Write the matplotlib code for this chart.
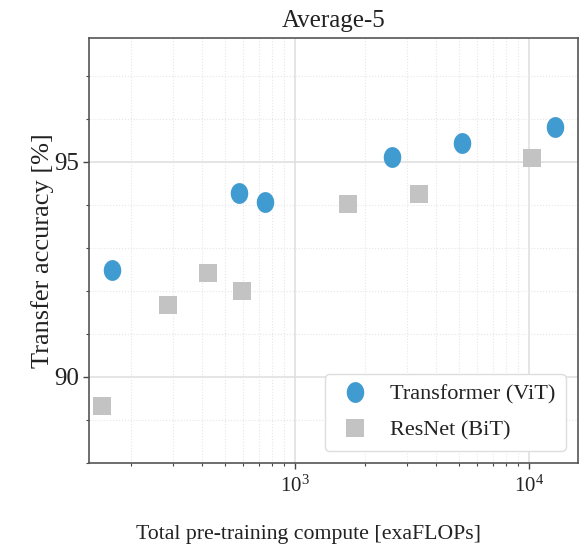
import numpy as np
import matplotlib
matplotlib.use("Agg")
import matplotlib.pyplot as plt
from matplotlib.path import Path
from matplotlib.ticker import LogLocator, MultipleLocator, NullFormatter

plt.rcParams['font.family'] = ['Liberation Serif', 'DejaVu Serif']
plt.rcParams['mathtext.fontset'] = 'custom'
plt.rcParams['mathtext.rm'] = 'Liberation Serif'

title = "Average-5"
xlabel = "Total pre-training compute [exaFLOPs]"
ylabel = "Transfer accuracy [%]"

vit_label = "Transformer (ViT)"
vit_compute = [165, 577, 745, 2600, 5170, 12900]
vit_acc = [92.49, 94.28, 94.07, 95.12, 95.44, 95.81]

bit_label = "ResNet (BiT)"
bit_compute = [150, 286, 425, 594, 1684, 3390, 10300]
bit_acc = [89.33, 91.67, 92.42, 92.00, 94.02, 94.26, 95.09]

yticks = [90, 95]

fig = plt.figure(figsize=(5.87, 5.46), dpi=100)
ax = fig.add_axes([89/587, 1-463/546, (578-89)/587, (463-38)/546])

t = np.linspace(0, 2*np.pi, 60)
ell = Path(np.column_stack([0.84*np.cos(t), np.sin(t)]), closed=True)

ax.plot(vit_compute, vit_acc, linestyle='none', marker=ell, markersize=15,
        color='#3f9bd0', markeredgewidth=0, label=vit_label, zorder=3)
ax.plot(bit_compute, bit_acc, linestyle='none', marker='s', markersize=13,
        color='#c3c3c3', markeredgewidth=0, label=bit_label, zorder=3)

ax.set_xscale('log')
ax.set_xlim(131.8, 16180)
ax.set_ylim(88.0, 97.88)
ax.set_yticks(yticks)
ax.yaxis.set_minor_locator(MultipleLocator(1))
ax.xaxis.set_minor_locator(LogLocator(base=10, subs=np.arange(2, 10)))
ax.xaxis.set_minor_formatter(NullFormatter())

ax.grid(which='major', color='#e0e0e0', linewidth=1.2, linestyle='-')
ax.grid(which='minor', color='#e6e6e6', linewidth=0.8, linestyle=':')
ax.set_axisbelow(True)

for s in ax.spines.values():
    s.set_color('#555555')
    s.set_linewidth(1.2)

ax.tick_params(which='major', direction='out', length=4, width=1, colors='#444444',
               labelcolor='#222222')
ax.tick_params(axis='x', which='major', labelsize=15, pad=5)
ax.tick_params(axis='y', which='major', labelsize=18, pad=3)
ax.tick_params(which='minor', direction='out', length=2.5, width=0.8, colors='#444444')

ax.set_title(title, fontsize=18, pad=8, color='#222222')
ax.set_xlabel(xlabel, fontsize=15.7, color='#222222')
ax.xaxis.set_label_coords(0.448, -0.145)
ax.set_ylabel(ylabel, fontsize=19, color='#222222')
ax.yaxis.set_label_coords(-0.072, 0.5)

leg = ax.legend(loc='lower right', fontsize=16, frameon=True, fancybox=True,
                edgecolor='#dddddd', framealpha=1, borderpad=0.45,
                borderaxespad=0.55, handlelength=1.8,
                handletextpad=0.7, labelspacing=0.7)
for txt in leg.get_texts():
    txt.set_color('#222222')

fig.savefig('out.png', dpi=100)
